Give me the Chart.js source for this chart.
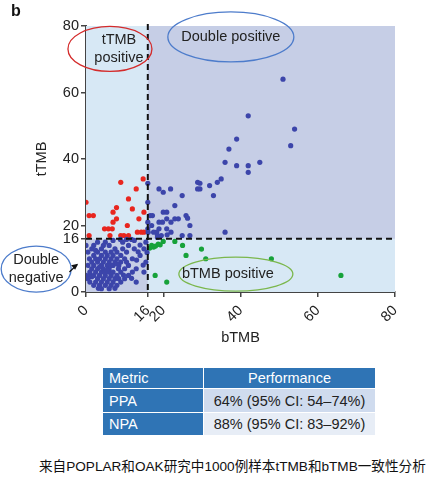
<!DOCTYPE html>
<html>
<head>
<meta charset="utf-8">
<script src="https://cdn.jsdelivr.net/npm/chart.js@4"></script>
<style>
  body { margin: 0; background: #fff; font-family: 'Liberation Sans', Arial, sans-serif; }
  #wrap { position: relative; width: 442px; height: 477px; }
  #chartBox { position: absolute; left: 0; top: 0; width: 442px; height: 350px; }
  table { position: absolute; left: 102px; top: 367px; width: 274px; border-collapse: collapse; font-size: 14.5px; }
  td { border: 1.5px solid #fff; padding: 0 6px; color: #222; }
  .hd td { background: #2f74b5; color: #fff; height: 20px; }
  .m { background: #2f74b5; color: #fff; width: 88px; }
  .r1 td { height: 23px; }
  .r2 td { height: 22px; }
  .r1 .v { background: #cfdbee; text-align: center; }
  .r2 .v { background: #e7edf6; text-align: center; }
  #cap { position: absolute; left: 39px; top: 455px; font-size: 13.6px; color: #111; white-space: nowrap;
         font-family: 'Liberation Sans', 'Noto Sans CJK SC', sans-serif; }
  #lab { position: absolute; left: 11px; top: 2px; font-weight: bold; font-size: 16px; color: #111; }
</style>
</head>
<body>
<div id="wrap">
  <div id="chartBox"><canvas id="myChart" width="442" height="350"></canvas></div>
  <div id="lab">b</div>
  <table>
    <tr class="hd"><td>Metric</td><td style="text-align:center">Performance</td></tr>
    <tr class="r1"><td class="m">PPA</td><td class="v">64% (95% CI: 54–74%)</td></tr>
    <tr class="r2"><td class="m">NPA</td><td class="v">88% (95% CI: 83–92%)</td></tr>
  </table>
  <div id="cap">来自POPLAR和OAK研究中1000例样本tTMB和bTMB一致性分析</div>
</div>
<script>
const ctx = document.getElementById('myChart')

const cutoff = 16
const xTicks = [0, 16, 20, 40, 60, 80]
const yTicks = [0, 16, 20, 40, 60, 80]

// double positive + double negative (blue)
const bluePoints = [
    [51, 64], [42, 53], [54, 49], [53, 44], [39, 46], [37, 43], [36, 39], [39, 38], [42, 38], [42, 36],
    [45, 39], [35, 34], [34, 33], [32, 32], [33, 29], [29.5, 32.7], [29.5, 31], [36, 18],
    [16, 32.7], [16, 27], [18.9, 31], [20, 30], [21.9, 31], [24.9, 29], [28.9, 33], [28.9, 31], [23, 26],
    [25.9, 23], [20, 24], [20.9, 24], [16.6, 23], [17.2, 23], [18.9, 21], [19.8, 21], [20.9, 22], [22, 21],
    [23, 22], [23.9, 22], [20.9, 19], [18.9, 19], [18.3, 18], [16.1, 18], [24.9, 17], [26.9, 17], [18.5, 17],
    [18.5, 16.4], [26.3, 22.2], [26.9, 20], [16, 19], [16, 21], [17, 20], [17.5, 18], [19.5, 17], [21, 17.2], [22, 18],
    [0, 14], [0.9, 10], [1.5, 4.6], [3.2, 1.1], [7.5, 1.1], [11.8, 4.1], [14, 14.1], [14.8, 8.1], [15.8, 11.9],
    [10.5, 15.8], [11.8, 15.8], [8.9, 15.8], [13.5, 12.1], [13.1, 9.6], [9.7, 5.1], [8.4, 7], [0, 5],
    [1, 5], [1, 6], [1.5, 7], [2, 5], [2, 8], [2, 11], [2.5, 3], [2.5, 6], [3, 4], [3, 7], [3, 9], [3, 12],
    [3.5, 2], [3.5, 5], [3.5, 10], [4, 3], [4, 6], [4, 8], [4, 11], [4, 13], [4.5, 4], [4.5, 7], [4.5, 9],
    [5, 2], [5, 5], [5, 6], [5, 10], [5, 12], [5.5, 3], [5.5, 8], [5.5, 11], [6, 4], [6, 6], [6, 7], [6, 9],
    [6, 14], [6.5, 2], [6.5, 5], [6.5, 10], [6.5, 12], [7, 3], [7, 6], [7, 8], [7, 11], [7.5, 4], [7.5, 9],
    [7.5, 13], [8, 2], [8, 5], [8, 10], [8, 12], [8.5, 4], [8.5, 8], [9, 3], [9, 6], [9, 9], [9, 11],
    [9.5, 13], [10, 4], [10, 7], [10, 10], [10.5, 12], [11, 5], [11, 8], [11, 14], [12, 6], [12, 10],
    [12.5, 13], [13, 3], [13, 7], [14, 11], [15, 6], [15, 13], [15.5, 9], [1.5, 13], [2, 14], [0.5, 8],
    [0.5, 12], [3, 15], [5, 15], [7, 15.5], [9.5, 15], [12.5, 15.5], [4, 1], [6, 1], [2, 2], [1, 3], [0.5, 4],
    [1.5, 9], [2.5, 10], [3.5, 7.5], [5.5, 6.5], [6.5, 8], [8, 8.5], [2.5, 12.5], [4.5, 14], [10.5, 9], [15.5, 15]
]

// tTMB positive only (red)
const redPoints = [
    [0, 27], [0.8, 23], [1.9, 23], [0.8, 17], [9, 33], [14.8, 34], [13, 31], [11, 28], [7.9, 25.4], [7, 24],
    [12, 25], [7.9, 22], [7, 21], [15, 24], [13.7, 22], [4.8, 19], [5.8, 19], [6.8, 19], [10.7, 20],
    [13.3, 18], [14.3, 18], [15, 18], [9, 17], [9.8, 17], [11, 17], [6.2, 17]
]

// bTMB positive only (green)
const greenPoints = [
    [17, 14], [17.5, 13.5], [18, 13.8], [18.7, 14.4], [19.2, 14.2], [20, 15.2], [23, 15.2], [25, 14],
    [25.9, 11], [29.9, 12.9], [31, 10], [48, 10], [66, 5], [17.9, 5], [20.9, 3], [16.5, 13.2]
]

// callouts: centre in data units, radii in px
const callouts = [
    { lines: ['tTMB', 'positive'], x: 6.2, y: 73.1, rx: 42, ry: 22.5, color: '#d42b2b', dx: 9 },
    { lines: ['Double positive'], x: 37.5, y: 76.7, rx: 63, ry: 25, color: '#4d7ccb', dx: 0 },
    { lines: ['bTMB positive'], x: 38.8, y: 5.4, rx: 57, ry: 17, color: '#7bb74c', dx: -8 },
    { lines: ['Double', 'negative'], x: -12.9, y: 6.9, rx: 35, ry: 23, color: '#4d7ccb', dx: 0 }
]

const toXY = arr => arr.map(p => ({ x: p[0], y: p[1] }))

const quadrants = {
    id: 'quadrants',
    beforeDatasetsDraw(chart) {
        const { ctx, chartArea: a, scales: { x, y } } = chart
        const cx = x.getPixelForValue(cutoff)
        const cy = y.getPixelForValue(cutoff)
        ctx.save()
        ctx.fillStyle = '#d7e8f5'
        ctx.fillRect(a.left, a.top, a.right - a.left, a.bottom - a.top)
        ctx.fillStyle = '#c6cee6'
        ctx.fillRect(cx, a.top, a.right - cx, cy - a.top)
        ctx.fillRect(a.left, cy, cx - a.left, a.bottom - cy)
        ctx.restore()
    },
    afterDatasetsDraw(chart) {
        const { ctx, chartArea: a, scales: { x, y } } = chart
        const cx = x.getPixelForValue(cutoff)
        const cy = y.getPixelForValue(cutoff)
        ctx.save()
        ctx.strokeStyle = '#111'
        ctx.lineWidth = 2
        ctx.setLineDash([6, 4])
        ctx.beginPath()
        ctx.moveTo(cx, a.top - 2)
        ctx.lineTo(cx, a.bottom)
        ctx.moveTo(a.left, cy)
        ctx.lineTo(a.right, cy)
        ctx.stroke()
        ctx.setLineDash([])

        ctx.font = '14.5px "Liberation Sans", Arial, sans-serif'
        ctx.textAlign = 'center'
        ctx.textBaseline = 'middle'
        callouts.forEach(c => {
            const px = x.getPixelForValue(c.x)
            const py = y.getPixelForValue(c.y)
            ctx.strokeStyle = c.color
            ctx.lineWidth = 1.3
            ctx.beginPath()
            ctx.ellipse(px, py, c.rx, c.ry, 0, 0, Math.PI * 2)
            ctx.stroke()
            ctx.fillStyle = '#222'
            const n = c.lines.length
            c.lines.forEach((t, i) => {
                ctx.fillText(t, px + c.dx, py + (i - (n - 1) / 2) * 18)
            })
        })

        // little arrow from "Double negative" to the cluster
        const ax = x.getPixelForValue(-4.3), ay = y.getPixelForValue(6)
        const bx = x.getPixelForValue(-2.3), by = y.getPixelForValue(8.2)
        ctx.strokeStyle = '#111'
        ctx.lineWidth = 1.2
        ctx.beginPath()
        ctx.moveTo(ax, ay)
        ctx.lineTo(bx, by)
        ctx.stroke()
        ctx.fillStyle = '#111'
        ctx.beginPath()
        ctx.moveTo(bx + 1, by - 1)
        ctx.lineTo(bx - 6, by + 0.5)
        ctx.lineTo(bx - 2, by + 5)
        ctx.closePath()
        ctx.fill()
        ctx.restore()
    }
}

const tickFont = { family: "'Liberation Sans', Arial, sans-serif", size: 14.5 }

const chart = new Chart(ctx, {
    type: 'scatter',
    data: {
        datasets: [{
            data: toXY(bluePoints),
            backgroundColor: '#3c45aa',
            pointRadius: 2.6,
            borderWidth: 0
        },
        {
            data: toXY(redPoints),
            backgroundColor: '#e8261f',
            pointRadius: 2.6,
            borderWidth: 0
        },
        {
            data: toXY(greenPoints),
            backgroundColor: '#17a23a',
            pointRadius: 2.6,
            borderWidth: 0
        }]
    },
    options: {
        responsive: false,
        animation: false,
        layout: {
            padding: { left: 0, top: 26, right: 47, bottom: 0 }
        },
        plugins: {
            legend: { display: false },
            tooltip: { enabled: false }
        },
        scales: {
            x: {
                type: 'linear',
                min: 0,
                max: 80,
                afterFit: s => { s.height = 58 },
                afterBuildTicks: s => { s.ticks = xTicks.map(v => ({ value: v })) },
                grid: { drawOnChartArea: false, drawTicks: true, tickLength: 5, color: '#444', lineWidth: 1.5 },
                border: { display: true, color: '#444', width: 2 },
                ticks: { autoSkip: false, minRotation: 45, maxRotation: 45, color: '#222', font: tickFont, padding: 5 },
                title: { display: true, text: 'bTMB', color: '#222', font: tickFont, padding: { top: 0, bottom: 3 } }
            },
            y: {
                type: 'linear',
                min: 0,
                max: 80,
                afterFit: s => { s.width = 86 },
                afterBuildTicks: s => { s.ticks = yTicks.map(v => ({ value: v })) },
                grid: { drawOnChartArea: false, drawTicks: true, tickLength: 5, color: '#444', lineWidth: 1.5 },
                border: { display: true, color: '#444', width: 2 },
                ticks: { autoSkip: false, color: '#222', font: tickFont, padding: 2 },
                title: { display: true, text: 'tTMB', color: '#222', font: tickFont, padding: { top: 33, bottom: 0 } }
            }
        }
    },
    plugins: [quadrants]
})
</script>
</body>
</html>
